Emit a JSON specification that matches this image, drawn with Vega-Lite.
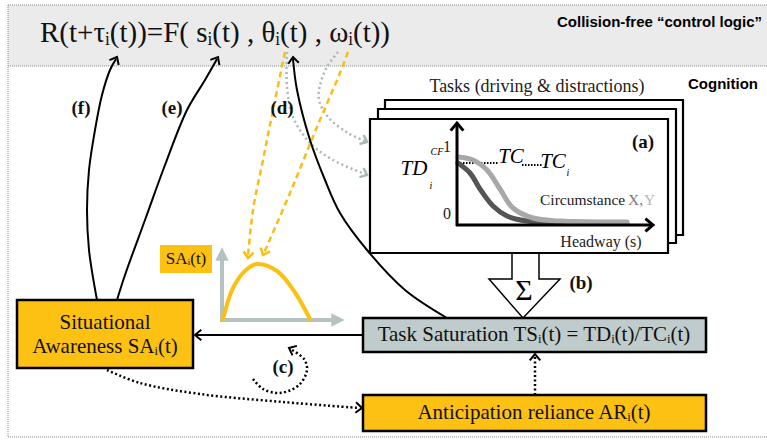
{
  "$schema": "https://vega.github.io/schema/vega-lite/v6.json",
  "width": 767,
  "height": 440,
  "autosize": {"type": "none"},
  "padding": 0,
  "background": "white",
  "config": {"view": {"stroke": null}},
  "datasets": {
    "rects": [
      {"r": "band", "k": "band", "x": 8, "x2": 767, "y": 5, "y2": 66},
      {"r": "back", "k": "task", "x": 385, "x2": 683, "y": 100, "y2": 235},
      {"r": "mid", "k": "task", "x": 378, "x2": 676, "y": 109, "y2": 243},
      {"r": "front", "k": "task", "x": 370, "x2": 668, "y": 119, "y2": 253},
      {"r": "salab", "k": "lab", "x": 160, "x2": 212, "y": 245, "y2": 273},
      {"r": "sa", "k": "ybox", "x": 17, "x2": 193, "y": 300, "y2": 368},
      {"r": "ar", "k": "ybox", "x": 363, "x2": 706, "y": 395, "y2": 431},
      {"r": "ts", "k": "gbox", "x": 363, "x2": 706, "y": 318, "y2": 352}
    ],
    "paths": [
      {"p": "fr1", "k": "frame", "o": 0, "x": 8, "y": 5},
      {"p": "fr1", "k": "frame", "o": 1, "x": 767, "y": 5},
      {"p": "fr2", "k": "frame", "o": 0, "x": 8, "y": 66},
      {"p": "fr2", "k": "frame", "o": 1, "x": 767, "y": 66},
      {"p": "fr3", "k": "frame", "o": 0, "x": 8, "y": 5},
      {"p": "fr3", "k": "frame", "o": 1, "x": 8, "y": 437},
      {"p": "fr4", "k": "frame", "o": 0, "x": 8, "y": 437},
      {"p": "fr4", "k": "frame", "o": 1, "x": 767, "y": 437},

      {"p": "ay", "k": "axis", "o": 0, "x": 457, "y": 226},
      {"p": "ay", "k": "axis", "o": 1, "x": 457, "y": 125},
      {"p": "ax", "k": "axis", "o": 0, "x": 456, "y": 225},
      {"p": "ax", "k": "axis", "o": 1, "x": 651, "y": 225},

      {"p": "tc1", "k": "tcdot", "o": 0, "x": 460, "y": 163},
      {"p": "tc1", "k": "tcdot", "o": 1, "x": 499, "y": 163},
      {"p": "tc2", "k": "tcdot", "o": 0, "x": 522, "y": 165},
      {"p": "tc2", "k": "tcdot", "o": 1, "x": 542, "y": 165},

      {"p": "dk", "k": "dark", "o": 0, "x": 458, "y": 163},
      {"p": "dk", "k": "dark", "o": 1, "x": 470, "y": 173},
      {"p": "dk", "k": "dark", "o": 2, "x": 480, "y": 189},
      {"p": "dk", "k": "dark", "o": 3, "x": 493, "y": 206},
      {"p": "dk", "k": "dark", "o": 4, "x": 507, "y": 216},
      {"p": "dk", "k": "dark", "o": 5, "x": 527, "y": 221},
      {"p": "dk", "k": "dark", "o": 6, "x": 560, "y": 222},
      {"p": "dk", "k": "dark", "o": 7, "x": 627, "y": 223},

      {"p": "lt", "k": "light", "o": 0, "x": 458, "y": 157},
      {"p": "lt", "k": "light", "o": 1, "x": 473, "y": 160},
      {"p": "lt", "k": "light", "o": 2, "x": 487, "y": 170},
      {"p": "lt", "k": "light", "o": 3, "x": 500, "y": 189},
      {"p": "lt", "k": "light", "o": 4, "x": 513, "y": 208},
      {"p": "lt", "k": "light", "o": 5, "x": 533, "y": 218},
      {"p": "lt", "k": "light", "o": 6, "x": 560, "y": 221},
      {"p": "lt", "k": "light", "o": 7, "x": 627, "y": 222},

      {"p": "ga", "k": "graydot", "o": 0, "x": 338, "y": 52},
      {"p": "ga", "k": "graydot", "o": 1, "x": 327, "y": 67},
      {"p": "ga", "k": "graydot", "o": 2, "x": 320, "y": 85},
      {"p": "ga", "k": "graydot", "o": 3, "x": 319, "y": 100},
      {"p": "ga", "k": "graydot", "o": 4, "x": 328, "y": 117},
      {"p": "ga", "k": "graydot", "o": 5, "x": 348, "y": 133},
      {"p": "ga", "k": "graydot", "o": 6, "x": 365, "y": 141},
      {"p": "gb", "k": "graydot", "o": 0, "x": 287, "y": 52},
      {"p": "gb", "k": "graydot", "o": 1, "x": 287, "y": 87},
      {"p": "gb", "k": "graydot", "o": 2, "x": 293, "y": 117},
      {"p": "gb", "k": "graydot", "o": 3, "x": 310, "y": 143},
      {"p": "gb", "k": "graydot", "o": 4, "x": 333, "y": 160},
      {"p": "gb", "k": "graydot", "o": 5, "x": 365, "y": 174},

      {"p": "y1", "k": "ydash", "o": 0, "x": 285, "y": 52},
      {"p": "y1", "k": "ydash", "o": 1, "x": 273, "y": 110},
      {"p": "y1", "k": "ydash", "o": 2, "x": 263, "y": 160},
      {"p": "y1", "k": "ydash", "o": 3, "x": 253, "y": 210},
      {"p": "y1", "k": "ydash", "o": 4, "x": 248, "y": 256},
      {"p": "y2", "k": "ydash", "o": 0, "x": 348, "y": 52},
      {"p": "y2", "k": "ydash", "o": 1, "x": 340, "y": 73},
      {"p": "y2", "k": "ydash", "o": 2, "x": 317, "y": 127},
      {"p": "y2", "k": "ydash", "o": 3, "x": 290, "y": 193},
      {"p": "y2", "k": "ydash", "o": 4, "x": 264, "y": 253},

      {"p": "f", "k": "black", "o": 0, "x": 97, "y": 300},
      {"p": "f", "k": "black", "o": 1, "x": 89, "y": 250},
      {"p": "f", "k": "black", "o": 2, "x": 87, "y": 210},
      {"p": "f", "k": "black", "o": 3, "x": 89, "y": 170},
      {"p": "f", "k": "black", "o": 4, "x": 95, "y": 130},
      {"p": "f", "k": "black", "o": 5, "x": 102, "y": 95},
      {"p": "f", "k": "black", "o": 6, "x": 110, "y": 70},
      {"p": "f", "k": "black", "o": 7, "x": 116, "y": 59},
      {"p": "e", "k": "black", "o": 0, "x": 117, "y": 300},
      {"p": "e", "k": "black", "o": 1, "x": 125, "y": 275},
      {"p": "e", "k": "black", "o": 2, "x": 145, "y": 220},
      {"p": "e", "k": "black", "o": 3, "x": 165, "y": 165},
      {"p": "e", "k": "black", "o": 4, "x": 187, "y": 110},
      {"p": "e", "k": "black", "o": 5, "x": 205, "y": 80},
      {"p": "e", "k": "black", "o": 6, "x": 217, "y": 59},
      {"p": "d", "k": "black", "o": 0, "x": 447, "y": 318},
      {"p": "d", "k": "black", "o": 1, "x": 405, "y": 290},
      {"p": "d", "k": "black", "o": 2, "x": 367, "y": 250},
      {"p": "d", "k": "black", "o": 3, "x": 340, "y": 213},
      {"p": "d", "k": "black", "o": 4, "x": 325, "y": 180},
      {"p": "d", "k": "black", "o": 5, "x": 310, "y": 140},
      {"p": "d", "k": "black", "o": 6, "x": 297, "y": 90},
      {"p": "d", "k": "black", "o": 7, "x": 293, "y": 59},
      {"p": "tssa", "k": "black", "o": 0, "x": 363, "y": 335},
      {"p": "tssa", "k": "black", "o": 1, "x": 196, "y": 335},

      {"p": "sig", "k": "sigma", "o": 0, "x": 512, "y": 253},
      {"p": "sig", "k": "sigma", "o": 1, "x": 512, "y": 279},
      {"p": "sig", "k": "sigma", "o": 2, "x": 489, "y": 279},
      {"p": "sig", "k": "sigma", "o": 3, "x": 523, "y": 318},
      {"p": "sig", "k": "sigma", "o": 4, "x": 560, "y": 279},
      {"p": "sig", "k": "sigma", "o": 5, "x": 539, "y": 279},
      {"p": "sig", "k": "sigma", "o": 6, "x": 539, "y": 253},

      {"p": "gv", "k": "grayaxis", "o": 0, "x": 222, "y": 322},
      {"p": "gv", "k": "grayaxis", "o": 1, "x": 222, "y": 258},
      {"p": "gh", "k": "grayaxis", "o": 0, "x": 220, "y": 320},
      {"p": "gh", "k": "grayaxis", "o": 1, "x": 333, "y": 320},

      {"p": "arch", "k": "arch", "o": 0, "x": 223, "y": 319},
      {"p": "arch", "k": "arch", "o": 1, "x": 233, "y": 288},
      {"p": "arch", "k": "arch", "o": 2, "x": 246, "y": 270},
      {"p": "arch", "k": "arch", "o": 3, "x": 257, "y": 264},
      {"p": "arch", "k": "arch", "o": 4, "x": 277, "y": 271},
      {"p": "arch", "k": "arch", "o": 5, "x": 294, "y": 291},
      {"p": "arch", "k": "arch", "o": 6, "x": 310, "y": 319},

      {"p": "sar", "k": "bdot", "o": 0, "x": 107, "y": 370},
      {"p": "sar", "k": "bdot", "o": 1, "x": 140, "y": 383},
      {"p": "sar", "k": "bdot", "o": 2, "x": 200, "y": 394},
      {"p": "sar", "k": "bdot", "o": 3, "x": 283, "y": 402},
      {"p": "sar", "k": "bdot", "o": 4, "x": 359, "y": 408},
      {"p": "art", "k": "bdot", "o": 0, "x": 535, "y": 395},
      {"p": "art", "k": "bdot", "o": 1, "x": 535, "y": 356},
      {"p": "c", "k": "bdot", "o": 0, "x": 253, "y": 379},
      {"p": "c", "k": "bdot", "o": 1, "x": 263, "y": 389},
      {"p": "c", "k": "bdot", "o": 2, "x": 280, "y": 393},
      {"p": "c", "k": "bdot", "o": 3, "x": 299, "y": 385},
      {"p": "c", "k": "bdot", "o": 4, "x": 307, "y": 370},
      {"p": "c", "k": "bdot", "o": 5, "x": 304, "y": 359},
      {"p": "c", "k": "bdot", "o": 6, "x": 292, "y": 350}
    ],
    "heads": [
      {"k": "hb", "x": 117, "y": 57, "a": -62},
      {"k": "hb", "x": 218, "y": 57, "a": -60},
      {"k": "hb", "x": 293, "y": 57, "a": -95},
      {"k": "hb", "x": 195, "y": 335, "a": 180},
      {"k": "hb", "x": 535, "y": 354, "a": -90},
      {"k": "hb", "x": 362, "y": 408, "a": 4},
      {"k": "hb", "x": 289, "y": 348, "a": -155},
      {"k": "hx", "x": 457, "y": 123, "a": -90},
      {"k": "hx", "x": 653, "y": 225, "a": 0},
      {"k": "hy", "x": 248, "y": 258, "a": 96},
      {"k": "hy", "x": 263, "y": 255, "a": 113},
      {"k": "hg", "x": 367, "y": 142, "a": 25},
      {"k": "hg", "x": 367, "y": 175, "a": 24},
      {"k": "tu", "x": 222, "y": 254, "a": -90},
      {"k": "tu", "x": 338, "y": 320, "a": 0}
    ],
    "texts": [
      {"k": "formula", "x": 40, "y": 33, "t": "R(t+τᵢ(t))=F( sᵢ(t) , θᵢ(t) , ωᵢ(t))"},
      {"k": "ctl", "x": 762, "y": 22, "t": "Collision-free “control logic”"},
      {"k": "cog", "x": 688, "y": 84, "t": "Cognition"},
      {"k": "tasks", "x": 537, "y": 87, "t": "Tasks (driving & distractions)"},
      {"k": "s15", "x": 447, "y": 147, "t": "1"},
      {"k": "s15", "x": 447, "y": 214, "t": "0"},
      {"k": "s15", "x": 601, "y": 242, "t": "Headway (s)"},
      {"k": "circ", "x": 540, "y": 200, "t": "Circumstance"},
      {"k": "gx", "x": 628, "y": 200, "t": "X,"},
      {"k": "gy", "x": 644, "y": 200, "t": "Y"},
      {"k": "ital", "x": 414, "y": 169, "t": "TD"},
      {"k": "ital", "x": 511, "y": 157, "t": "TC"},
      {"k": "ital", "x": 553, "y": 162, "t": "TC"},
      {"k": "itsm", "x": 437, "y": 152, "t": "CF"},
      {"k": "itsm", "x": 431, "y": 186, "t": "i"},
      {"k": "itsm", "x": 568, "y": 173, "t": "i"},
      {"k": "lab", "x": 643, "y": 142, "t": "(a)"},
      {"k": "lab", "x": 81, "y": 108, "t": "(f)"},
      {"k": "lab", "x": 172, "y": 108, "t": "(e)"},
      {"k": "lab", "x": 282, "y": 108, "t": "(d)"},
      {"k": "lab", "x": 283, "y": 367, "t": "(c)"},
      {"k": "lab", "x": 581, "y": 283, "t": "(b)"},
      {"k": "sig", "x": 524, "y": 291, "t": "Σ"},
      {"k": "salab", "x": 186, "y": 259, "t": "SAᵢ(t)"},
      {"k": "box", "x": 105, "y": 323, "t": "Situational"},
      {"k": "box", "x": 105, "y": 347, "t": "Awareness SAᵢ(t)"},
      {"k": "box", "x": 534, "y": 335, "t": "Task Saturation TSᵢ(t) = TDᵢ(t)/TCᵢ(t)"},
      {"k": "box", "x": 534, "y": 413, "t": "Anticipation reliance ARᵢ(t)"}
    ]
  },
  "encoding": {
    "x": {"field": "x", "type": "quantitative", "scale": {"domain": [0, 767], "nice": false, "zero": false}, "axis": null},
    "y": {"field": "y", "type": "quantitative", "scale": {"domain": [0, 440], "nice": false, "zero": false, "reverse": true}, "axis": null}
  },
  "layer": [
    {"data": {"name": "rects"}, "transform": [{"filter": "datum.k == 'band'"}],
     "mark": {"type": "rect", "fill": "#ebebeb", "strokeWidth": 0},
     "encoding": {"x2": {"field": "x2"}, "y2": {"field": "y2"}}},
    {"data": {"name": "paths"}, "transform": [{"filter": "datum.k == 'frame'"}],
     "mark": {"type": "line", "stroke": "#8a8a8a", "strokeWidth": 1, "strokeDash": [1, 1]},
     "encoding": {"detail": {"field": "p"}, "order": {"field": "o"}}},
    {"data": {"name": "rects"}, "transform": [{"filter": "datum.k == 'task'"}],
     "mark": {"type": "rect", "fill": "white", "stroke": "black", "strokeWidth": 2.2},
     "encoding": {"x2": {"field": "x2"}, "y2": {"field": "y2"}}},
    {"data": {"name": "paths"}, "transform": [{"filter": "datum.k == 'tcdot'"}],
     "mark": {"type": "line", "stroke": "black", "strokeWidth": 2, "strokeDash": [1.5, 1.5]},
     "encoding": {"detail": {"field": "p"}, "order": {"field": "o"}}},
    {"data": {"name": "paths"}, "transform": [{"filter": "datum.k == 'dark'"}],
     "mark": {"type": "line", "stroke": "#555555", "strokeWidth": 5, "interpolate": "catmull-rom", "strokeCap": "round"},
     "encoding": {"detail": {"field": "p"}, "order": {"field": "o"}}},
    {"data": {"name": "paths"}, "transform": [{"filter": "datum.k == 'light'"}],
     "mark": {"type": "line", "stroke": "#a8a8a8", "strokeWidth": 5, "interpolate": "catmull-rom", "strokeCap": "round"},
     "encoding": {"detail": {"field": "p"}, "order": {"field": "o"}}},
    {"data": {"name": "paths"}, "transform": [{"filter": "datum.k == 'axis'"}],
     "mark": {"type": "line", "stroke": "black", "strokeWidth": 3},
     "encoding": {"detail": {"field": "p"}, "order": {"field": "o"}}},
    {"data": {"name": "paths"}, "transform": [{"filter": "datum.k == 'graydot'"}],
     "mark": {"type": "line", "stroke": "#a9b9b9", "strokeWidth": 2.5, "strokeDash": [2, 3], "interpolate": "catmull-rom"},
     "encoding": {"detail": {"field": "p"}, "order": {"field": "o"}}},
    {"data": {"name": "paths"}, "transform": [{"filter": "datum.k == 'ydash'"}],
     "mark": {"type": "line", "stroke": "#f9be12", "strokeWidth": 2.5, "strokeDash": [6, 4], "interpolate": "catmull-rom"},
     "encoding": {"detail": {"field": "p"}, "order": {"field": "o"}}},
    {"data": {"name": "paths"}, "transform": [{"filter": "datum.k == 'black'"}],
     "mark": {"type": "line", "stroke": "black", "strokeWidth": 2, "interpolate": "catmull-rom"},
     "encoding": {"detail": {"field": "p"}, "order": {"field": "o"}}},
    {"data": {"name": "paths"}, "transform": [{"filter": "datum.k == 'sigma'"}],
     "mark": {"type": "line", "stroke": "black", "strokeWidth": 1.5, "strokeJoin": "miter"},
     "encoding": {"detail": {"field": "p"}, "order": {"field": "o"}}},
    {"data": {"name": "paths"}, "transform": [{"filter": "datum.k == 'grayaxis'"}],
     "mark": {"type": "line", "stroke": "#b5c2c2", "strokeWidth": 4},
     "encoding": {"detail": {"field": "p"}, "order": {"field": "o"}}},
    {"data": {"name": "paths"}, "transform": [{"filter": "datum.k == 'arch'"}],
     "mark": {"type": "line", "stroke": "#fbc012", "strokeWidth": 4, "interpolate": "catmull-rom", "strokeCap": "round"},
     "encoding": {"detail": {"field": "p"}, "order": {"field": "o"}}},
    {"data": {"name": "rects"}, "transform": [{"filter": "datum.k == 'lab'"}],
     "mark": {"type": "rect", "fill": "#fdc114", "strokeWidth": 0},
     "encoding": {"x2": {"field": "x2"}, "y2": {"field": "y2"}}},
    {"data": {"name": "rects"}, "transform": [{"filter": "datum.k == 'ybox'"}],
     "mark": {"type": "rect", "fill": "#fdc114", "stroke": "black", "strokeWidth": 2.5},
     "encoding": {"x2": {"field": "x2"}, "y2": {"field": "y2"}}},
    {"data": {"name": "rects"}, "transform": [{"filter": "datum.k == 'gbox'"}],
     "mark": {"type": "rect", "fill": "#c0cbcb", "stroke": "black", "strokeWidth": 2.5},
     "encoding": {"x2": {"field": "x2"}, "y2": {"field": "y2"}}},
    {"data": {"name": "paths"}, "transform": [{"filter": "datum.k == 'bdot'"}],
     "mark": {"type": "line", "stroke": "black", "strokeWidth": 2.5, "strokeDash": [2, 2.5], "interpolate": "catmull-rom"},
     "encoding": {"detail": {"field": "p"}, "order": {"field": "o"}}},

    {"data": {"name": "heads"}, "transform": [{"filter": "datum.k == 'hb'"}],
     "mark": {"type": "point", "shape": "M-1.2,-1L0,0L-1.2,1", "filled": false, "stroke": "black", "strokeWidth": 2, "size": 110, "opacity": 1},
     "encoding": {"angle": {"field": "a", "type": "quantitative", "scale": null}}},
    {"data": {"name": "heads"}, "transform": [{"filter": "datum.k == 'hx'"}],
     "mark": {"type": "point", "shape": "M-1.2,-1L0,0L-1.2,1", "filled": false, "stroke": "black", "strokeWidth": 3, "size": 160, "opacity": 1},
     "encoding": {"angle": {"field": "a", "type": "quantitative", "scale": null}}},
    {"data": {"name": "heads"}, "transform": [{"filter": "datum.k == 'hy'"}],
     "mark": {"type": "point", "shape": "M-1.2,-1L0,0L-1.2,1", "filled": false, "stroke": "#f9be12", "strokeWidth": 2.5, "size": 100, "opacity": 1},
     "encoding": {"angle": {"field": "a", "type": "quantitative", "scale": null}}},
    {"data": {"name": "heads"}, "transform": [{"filter": "datum.k == 'hg'"}],
     "mark": {"type": "point", "shape": "M-1.2,-1L0,0L-1.2,1", "filled": false, "stroke": "#a9b9b9", "strokeWidth": 2.5, "size": 100, "opacity": 1},
     "encoding": {"angle": {"field": "a", "type": "quantitative", "scale": null}}},
    {"data": {"name": "heads"}, "transform": [{"filter": "datum.k == 'tu'"}],
     "mark": {"type": "point", "shape": "M-1,-1L1,0L-1,1Z", "filled": true, "fill": "#b5c2c2", "strokeWidth": 0, "size": 180, "opacity": 1},
     "encoding": {"angle": {"field": "a", "type": "quantitative", "scale": null}}},

    {"data": {"name": "texts"}, "transform": [{"filter": "datum.k == 'formula'"}],
     "mark": {"type": "text", "font": "Liberation Serif", "fontSize": 29, "align": "left", "baseline": "middle", "color": "#111"},
     "encoding": {"text": {"field": "t"}}},
    {"data": {"name": "texts"}, "transform": [{"filter": "datum.k == 'ctl'"}],
     "mark": {"type": "text", "font": "Liberation Sans", "fontSize": 15, "fontWeight": "bold", "align": "right", "baseline": "middle", "color": "black"},
     "encoding": {"text": {"field": "t"}}},
    {"data": {"name": "texts"}, "transform": [{"filter": "datum.k == 'cog'"}],
     "mark": {"type": "text", "font": "Liberation Sans", "fontSize": 15, "fontWeight": "bold", "align": "left", "baseline": "middle", "color": "black"},
     "encoding": {"text": {"field": "t"}}},
    {"data": {"name": "texts"}, "transform": [{"filter": "datum.k == 'tasks'"}],
     "mark": {"type": "text", "font": "Liberation Serif", "fontSize": 18, "align": "center", "baseline": "middle", "color": "#222"},
     "encoding": {"text": {"field": "t"}}},
    {"data": {"name": "texts"}, "transform": [{"filter": "datum.k == 's15'"}],
     "mark": {"type": "text", "font": "Liberation Serif", "fontSize": 16, "align": "center", "baseline": "middle", "color": "#222"},
     "encoding": {"text": {"field": "t"}}},
    {"data": {"name": "texts"}, "transform": [{"filter": "datum.k == 'circ'"}],
     "mark": {"type": "text", "font": "Liberation Serif", "fontSize": 15.5, "align": "left", "baseline": "middle", "color": "#222"},
     "encoding": {"text": {"field": "t"}}},
    {"data": {"name": "texts"}, "transform": [{"filter": "datum.k == 'gx'"}],
     "mark": {"type": "text", "font": "Liberation Serif", "fontSize": 15.5, "align": "left", "baseline": "middle", "color": "#7a7a7a"},
     "encoding": {"text": {"field": "t"}}},
    {"data": {"name": "texts"}, "transform": [{"filter": "datum.k == 'gy'"}],
     "mark": {"type": "text", "font": "Liberation Serif", "fontSize": 15.5, "align": "left", "baseline": "middle", "color": "#b8b8b8"},
     "encoding": {"text": {"field": "t"}}},
    {"data": {"name": "texts"}, "transform": [{"filter": "datum.k == 'ital'"}],
     "mark": {"type": "text", "font": "Liberation Serif", "fontSize": 21, "fontStyle": "italic", "align": "center", "baseline": "middle", "color": "black"},
     "encoding": {"text": {"field": "t"}}},
    {"data": {"name": "texts"}, "transform": [{"filter": "datum.k == 'itsm'"}],
     "mark": {"type": "text", "font": "Liberation Serif", "fontSize": 10, "fontStyle": "italic", "align": "center", "baseline": "middle", "color": "black"},
     "encoding": {"text": {"field": "t"}}},
    {"data": {"name": "texts"}, "transform": [{"filter": "datum.k == 'lab'"}],
     "mark": {"type": "text", "font": "Liberation Serif", "fontSize": 19, "fontWeight": "bold", "align": "center", "baseline": "middle", "color": "#111"},
     "encoding": {"text": {"field": "t"}}},
    {"data": {"name": "texts"}, "transform": [{"filter": "datum.k == 'sig'"}],
     "mark": {"type": "text", "font": "Liberation Serif", "fontSize": 30, "align": "center", "baseline": "middle", "color": "black"},
     "encoding": {"text": {"field": "t"}}},
    {"data": {"name": "texts"}, "transform": [{"filter": "datum.k == 'salab'"}],
     "mark": {"type": "text", "font": "Liberation Serif", "fontSize": 17, "align": "center", "baseline": "middle", "color": "#111"},
     "encoding": {"text": {"field": "t"}}},
    {"data": {"name": "texts"}, "transform": [{"filter": "datum.k == 'box'"}],
     "mark": {"type": "text", "font": "Liberation Serif", "fontSize": 21, "align": "center", "baseline": "middle", "color": "#111"},
     "encoding": {"text": {"field": "t"}}}
  ]
}
